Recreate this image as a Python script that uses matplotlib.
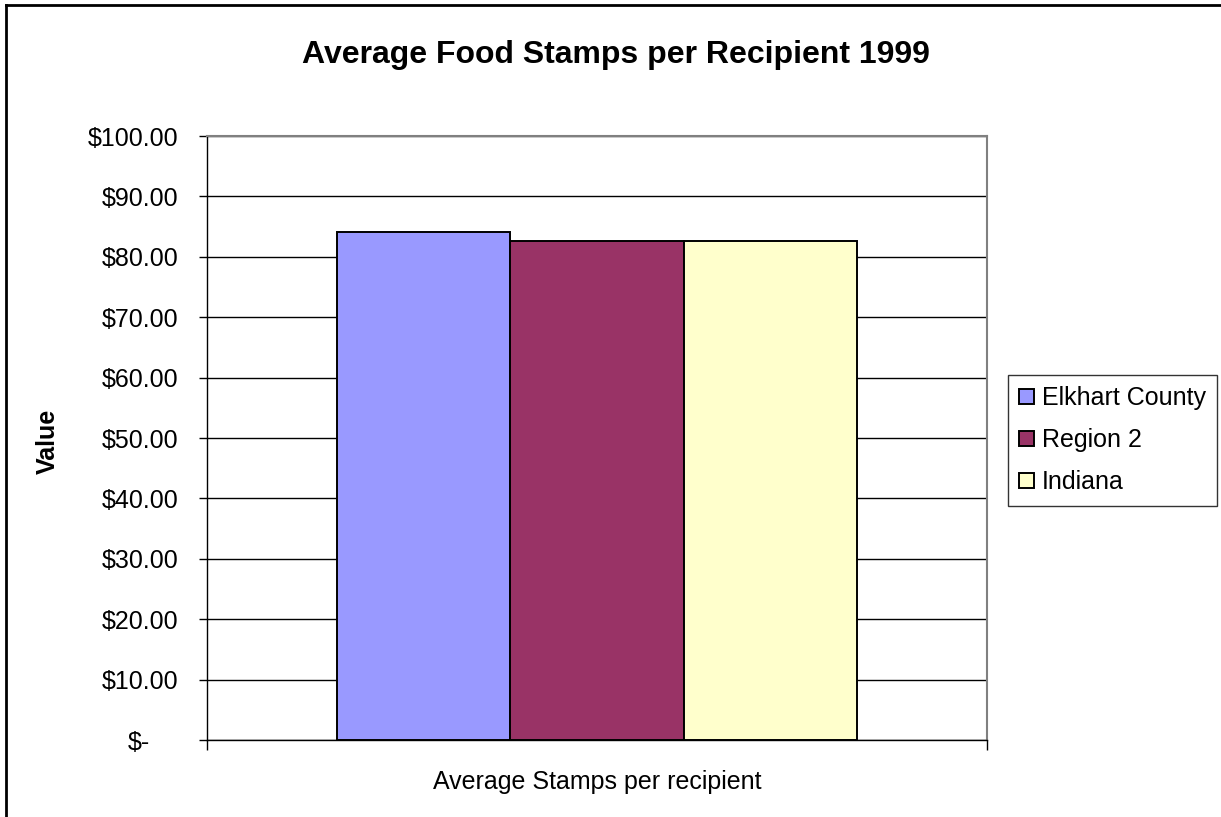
import matplotlib
matplotlib.use("Agg")
import matplotlib.pyplot as plt
from matplotlib.transforms import ScaledTranslation
from matplotlib.lines import Line2D

plt.rcParams['font.family'] = ['Liberation Sans', 'DejaVu Sans']

title = "Average Food Stamps per Recipient 1999"
category = "Average Stamps per recipient"
series = ["Elkhart County", "Region 2", "Indiana"]
values = [84.15, 82.6, 82.6]
colors = ["#9999FF", "#993366", "#FFFFCC"]
yticks = [0, 10, 20, 30, 40, 50, 60, 70, 80, 90, 100]

W, H = 1221, 817
fig = plt.figure(figsize=(W / 100, H / 100), dpi=100)
ax = fig.add_axes([207 / W, 1 - 740 / H, 780 / W, 604 / H])

n = len(series)
width = (2 / 3) / n
for i, (s, v, c) in enumerate(zip(series, values, colors)):
    x = (i - (n - 1) / 2) * width
    ax.bar(x, v, width=width, color=c, edgecolor="black", linewidth=1.4,
           label=s, zorder=3)

ax.set_xlim(-0.5, 0.5)
ax.set_ylim(0, 100)
ax.set_yticks(yticks)
labels = ["$-" if t == 0 else f"${t:.2f}" for t in yticks]
ax.set_yticklabels(labels, fontsize=18)
ax.tick_params(axis="y", length=6, width=1, pad=14.5, color="black")
for lab, t in zip(ax.get_yticklabels(), yticks):
    if t == 0:
        lab.set_transform(lab.get_transform() + ScaledTranslation(-28 / 100, 0, fig.dpi_scale_trans))

ax.set_xticks([-0.5, 0.5])
ax.set_xticklabels(["", ""])
ax.tick_params(axis="x", length=7, width=1, color="black")
ax.set_xticks([0], minor=True)
ax.set_xticklabels([category], minor=True, fontsize=18)
ax.tick_params(axis="x", which="minor", length=0, pad=21.5)

ax.yaxis.grid(True, color="black", linewidth=1)
ax.set_axisbelow(True)

for sp in ["top", "right"]:
    ax.spines[sp].set_color("#808080")
    ax.spines[sp].set_linewidth(1.5)
for sp in ["left", "bottom"]:
    ax.spines[sp].set_color("black")
    ax.spines[sp].set_linewidth(1)

fig.text(616 / W, 1 - 55 / H, title, fontsize=23, fontweight="bold",
         ha="center", va="center")
fig.text(48 / W, 1 - 441 / H, "Value", fontsize=18, fontweight="bold",
         rotation=90, ha="center", va="center")

leg = fig.legend(loc="upper left", bbox_to_anchor=(1008 / W, 1 - 375 / H),
                 bbox_transform=fig.transFigure, fontsize=18, frameon=True,
                 fancybox=False, shadow=False, borderaxespad=0,
                 handlelength=0.6, handleheight=0.6, handletextpad=0.3,
                 labelspacing=0.72, borderpad=0.45)
leg.get_frame().set_edgecolor("black")
leg.get_frame().set_linewidth(1)

# outer chart border
fig.add_artist(Line2D([6 / W, 6 / W], [0, 1 - 5 / H], transform=fig.transFigure,
                      color="black", linewidth=2))
fig.add_artist(Line2D([6 / W, 1], [1 - 5 / H, 1 - 5 / H], transform=fig.transFigure,
                      color="black", linewidth=2))

fig.savefig("out.png", dpi=100)
